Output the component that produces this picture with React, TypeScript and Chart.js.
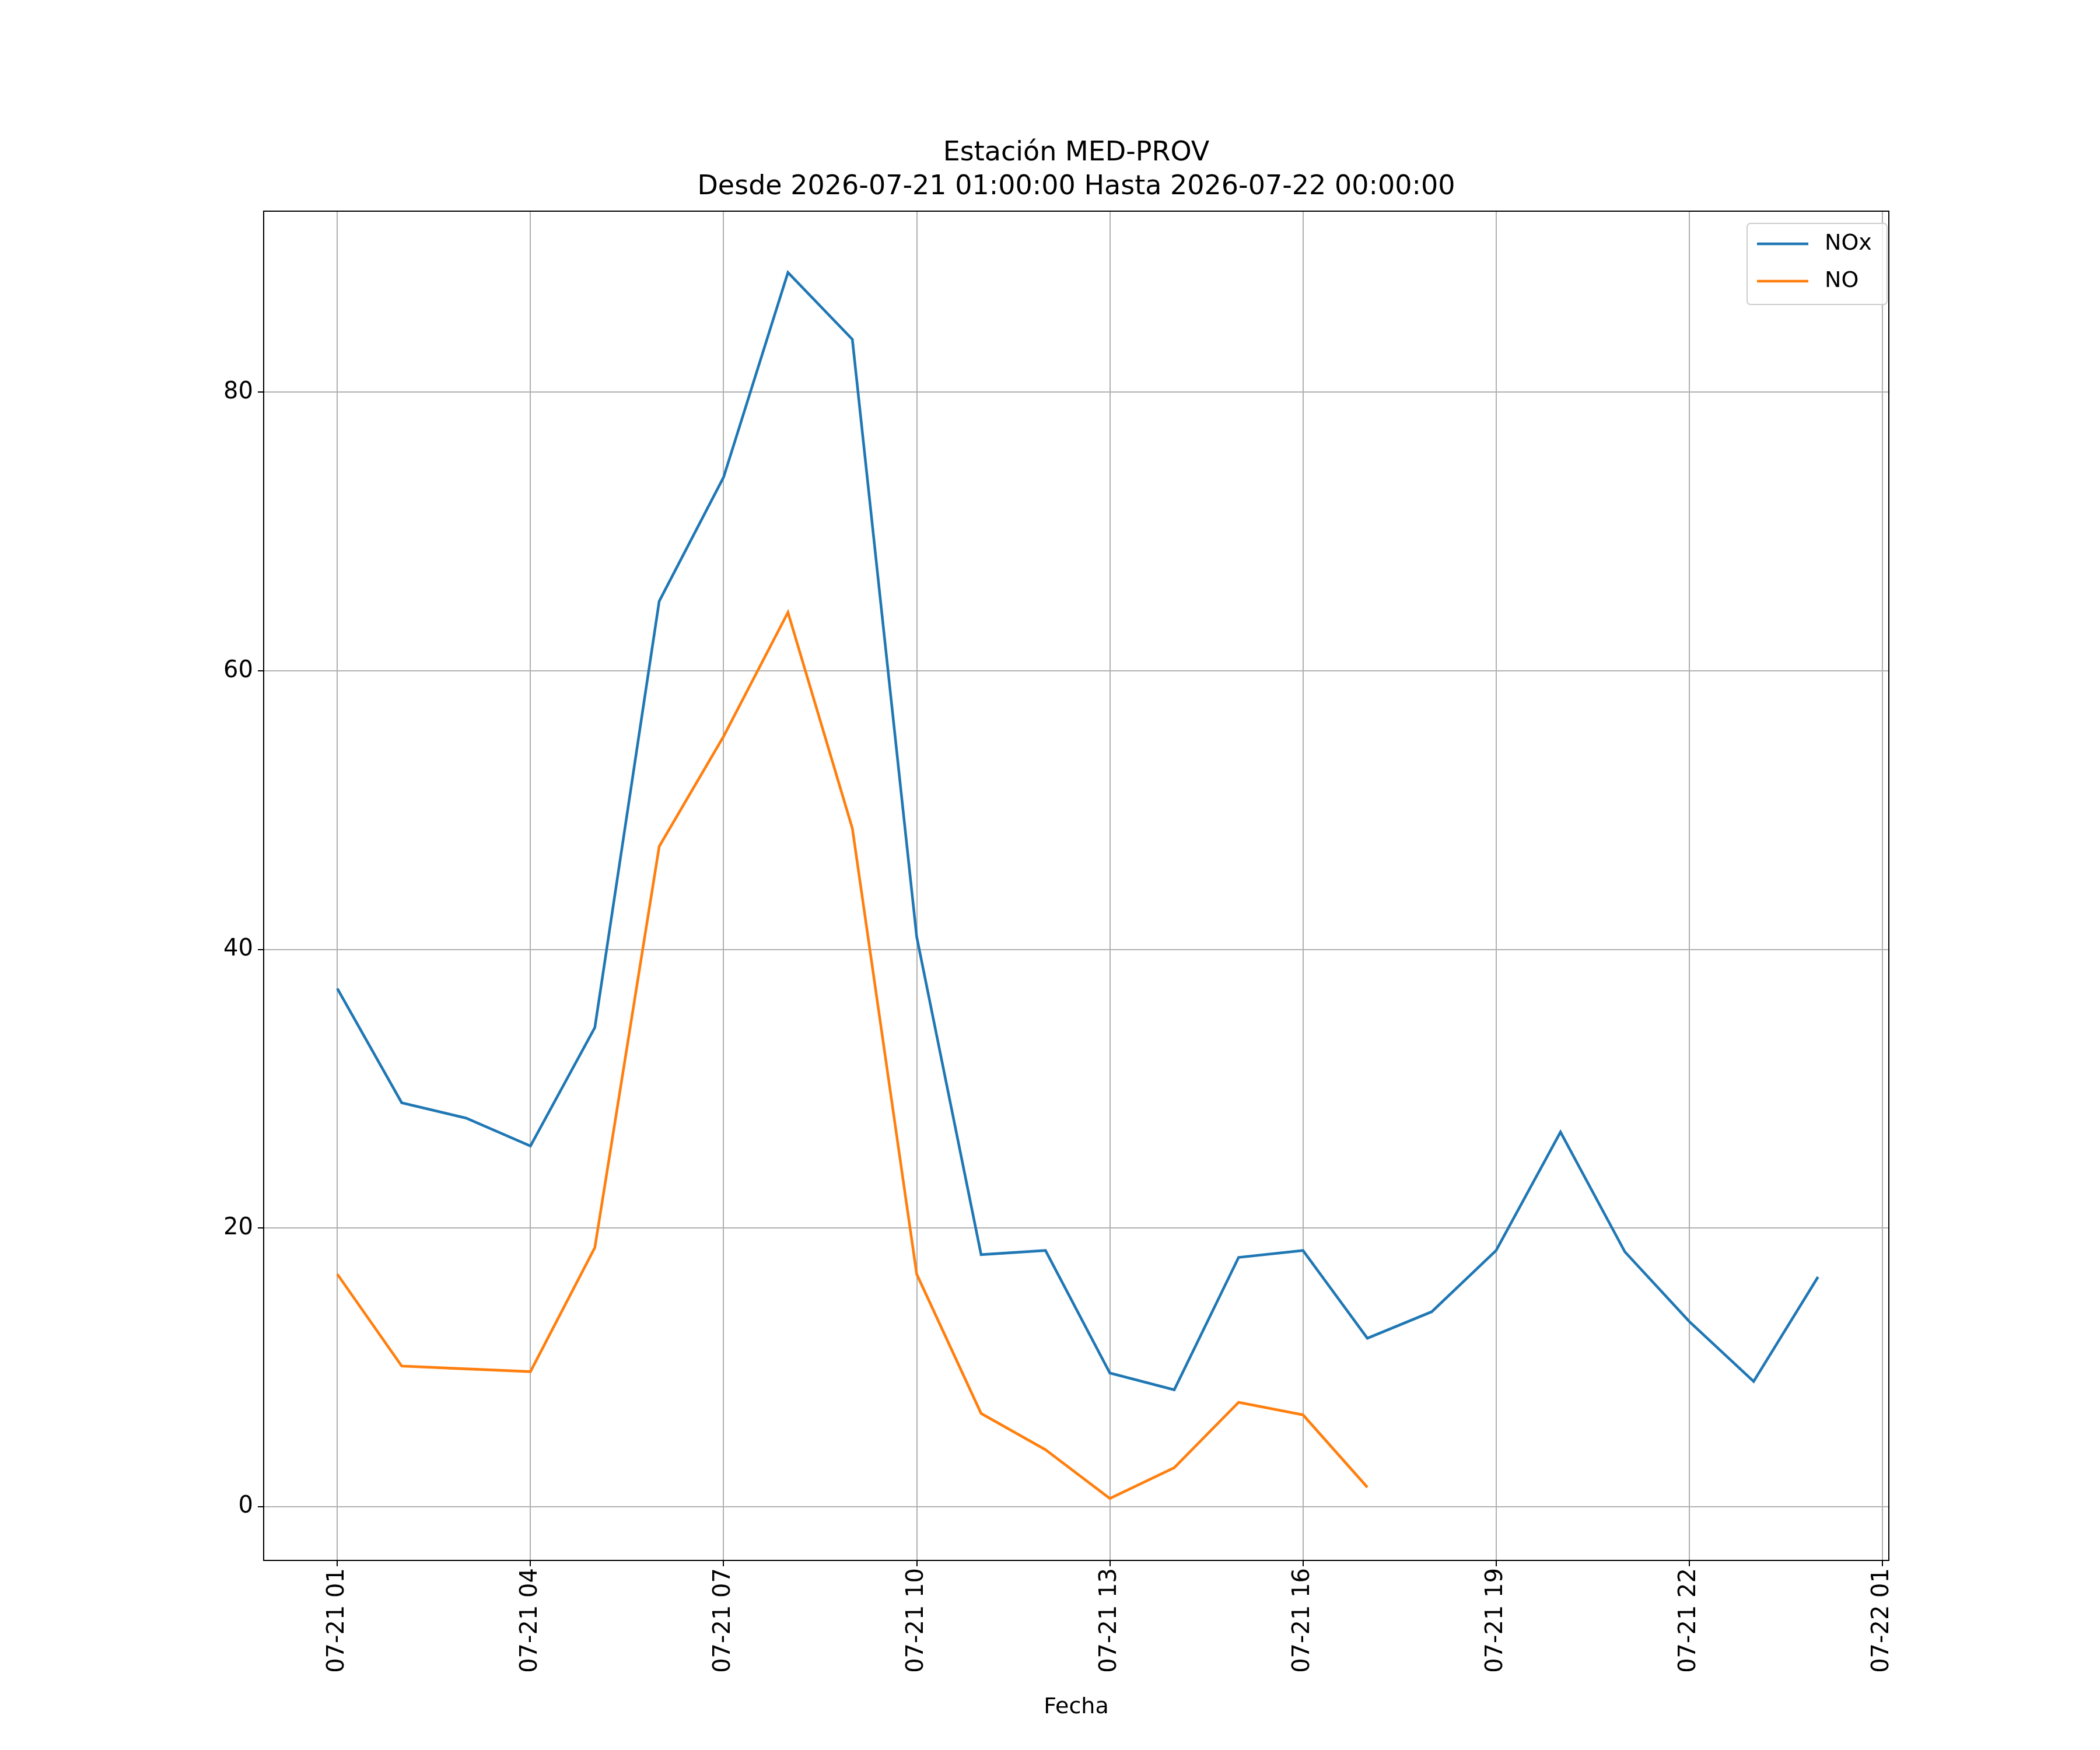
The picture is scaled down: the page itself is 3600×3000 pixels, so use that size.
import React, { useEffect, useRef } from "react";
import { Chart, registerables } from "chart.js";
Chart.register(...registerables);

const hours = [1,2,3,4,5,6,7,8,9,10,11,12,13,14,15,16,17,18,19,20,21,22,23,24];
const noxValues = [37.2,29.0,27.9,25.9,34.4,65.0,73.9,88.6,83.8,40.9,18.1,18.4,9.6,8.4,17.9,18.4,12.1,14.0,18.4,26.9,18.3,13.3,9.0,16.5];
const noValues: (number|null)[] = [16.7,10.1,9.9,9.7,18.6,47.4,55.3,64.2,48.7,16.7,6.7,4.1,0.6,2.8,7.5,6.6,1.4,null,null,null,null,null,null,null];
const tickHours = [1,4,7,10,13,16,19,22,25];
const tickLabels = ["07-21 01","07-21 04","07-21 07","07-21 10","07-21 13","07-21 16","07-21 19","07-21 22","07-22 01"];
const titleLines = ["Estación MED-PROV","Desde 2026-07-21 01:00:00 Hasta 2026-07-22 00:00:00"];
const FONT = "DejaVu Sans";

export default function App() {
  const ref = useRef<HTMLCanvasElement>(null);
  useEffect(() => {
    const deco = {
      id: "deco",
      afterDraw(c: any) {
        const ctx = c.ctx, a = c.chartArea;
        ctx.save();
        ctx.strokeStyle = "#000"; ctx.lineWidth = 2;
        ctx.strokeRect(a.left, a.top, a.right - a.left, a.bottom - a.top);
        ctx.fillStyle = "#000"; ctx.textAlign = "center"; ctx.textBaseline = "middle";
        ctx.font = `46px "${FONT}"`;
        ctx.fillText(titleLines[0], (a.left + a.right) / 2, 263);
        ctx.fillText(titleLines[1], (a.left + a.right) / 2, 321);
        // legend
        ctx.fillStyle = "rgba(255,255,255,0.8)"; ctx.strokeStyle = "#cccccc"; ctx.lineWidth = 2;
        ctx.beginPath(); (ctx as any).roundRect(2995, 383, 240, 139, 6); ctx.fill(); ctx.stroke();
        const items = [["NOx", "#1f77b4", 418], ["NO", "#ff7f0e", 482]] as const;
        ctx.font = `38px "${FONT}"`; ctx.textAlign = "left";
        for (const [t, col, y] of items) {
          ctx.strokeStyle = col; ctx.lineWidth = 4.6;
          ctx.beginPath(); ctx.moveTo(3012, y); ctx.lineTo(3100, y); ctx.stroke();
          ctx.fillStyle = "#000"; ctx.fillText(t, 3128, y);
        }
        ctx.restore();
      },
    };
    const chart = new Chart(ref.current!, {
      type: "line",
      data: {
        datasets: [
          { label: "NOx", data: hours.map((h, i) => ({ x: h, y: noxValues[i] })), borderColor: "#1f77b4", borderWidth: 4.6, pointRadius: 0, tension: 0 },
          { label: "NO", data: hours.map((h, i) => ({ x: h, y: noValues[i] as any })), borderColor: "#ff7f0e", borderWidth: 4.6, pointRadius: 0, tension: 0, spanGaps: false },
        ],
      },
      options: {
        animation: false, responsive: false, devicePixelRatio: 1,
        layout: { padding: { top: 362, right: 362, left: 0, bottom: 0 } },
        plugins: { legend: { display: false }, title: { display: false }, tooltip: { enabled: false } },
        scales: {
          x: {
            type: "linear", min: -0.144, max: 25.1,
            afterBuildTicks: (s: any) => { s.ticks = tickHours.map((v) => ({ value: v })); },
            afterFit: (s: any) => { s.height = 325; },
            ticks: { color: "#000", font: { family: FONT, size: 40 }, maxRotation: 90, minRotation: 90, autoSkip: false,
              callback: (v: any) => tickLabels[tickHours.indexOf(Number(v))] ?? "" },
            grid: { color: "#b0b0b0", lineWidth: 2, tickColor: "#000", tickLength: 10 },
            border: { display: false },
            title: { display: true, text: "Fecha", color: "#000", font: { family: FONT, size: 38 }, padding: { top: 0, bottom: 50 } },
          },
          y: {
            min: -3.85, max: 93.0,
            afterBuildTicks: (s: any) => { s.ticks = [0, 20, 40, 60, 80].map((v) => ({ value: v })); },
            afterFit: (s: any) => { s.width = 452; },
            ticks: { color: "#000", font: { family: FONT, size: 40 }, padding: 8 },
            grid: { color: "#b0b0b0", lineWidth: 2, tickColor: "#000", tickLength: 10 },
            border: { display: false },
          },
        },
      },
      plugins: [deco],
    });
    return () => chart.destroy();
  }, []);
  return <canvas ref={ref} width={3600} height={3000} style={{ position: "absolute", left: 0, top: 0, width: 3600, height: 3000, background: "#fff" }} />;
}
